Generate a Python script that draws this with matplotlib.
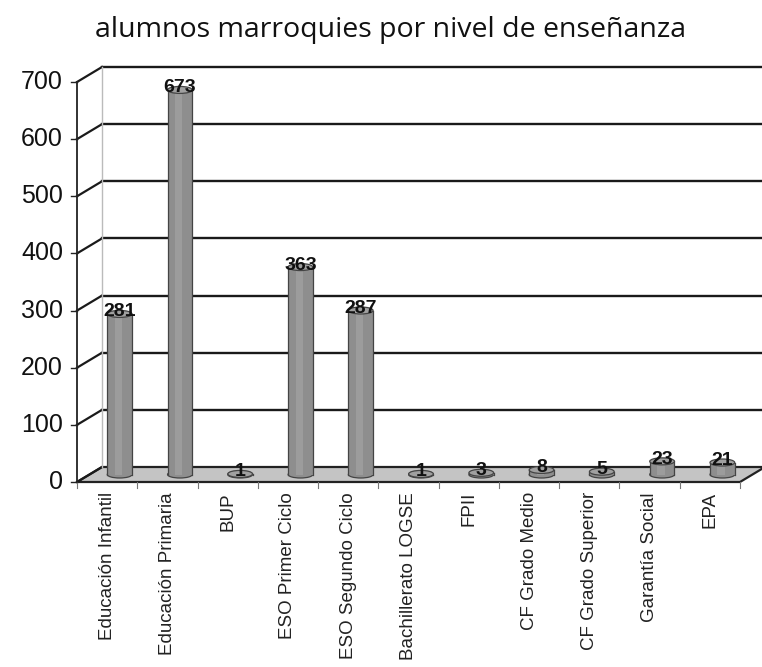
import matplotlib.pyplot as plt
from matplotlib.patches import Rectangle, Ellipse, Polygon
from matplotlib.transforms import ScaledTranslation

categories = ["Educación Infantil", "Educación Primaria", "BUP", "ESO Primer Ciclo",
              "ESO Segundo Ciclo", "Bachillerato LOGSE", "FPII", "CF Grado Medio",
              "CF Grado Superior", "Garantía Social", "EPA"]
values = [281, 673, 1, 363, 287, 1, 3, 8, 5, 23, 21]
yticks = [0, 100, 200, 300, 400, 500, 600, 700]

title = "alumnos marroquies por nivel de enseñanza"

W, H = 762, 667
fig = plt.figure(figsize=(W / 100, H / 100), dpi=100)
ax = fig.add_axes([77 / W, (H - 482) / H, (740 - 77) / W, 400 / H])
ax.set_xlim(0, len(categories))
ax.set_ylim(0, 700)
ax.axis("off")

# depth offsets in pixels -> inches
dx, dy = 25 / 100, 15 / 100
back = ax.transData + ScaledTranslation(dx, dy, fig.dpi_scale_trans)
mid = ax.transData + ScaledTranslation(dx / 2, dy / 2, fig.dpi_scale_trans)
n = len(categories)
ppu = 400 / 700  # pixels per data unit (y)

disp = lambda t, p: t.transform(p)

# floor
pts = [disp(ax.transData, (0, 0)), disp(ax.transData, (n, 0)),
       disp(back, (n, 0)), disp(back, (0, 0))]
fig.patches.append(Polygon(pts, closed=True, transform=None, facecolor="#c4c4c4",
                           edgecolor="#222222", lw=1.6, zorder=-1))

# back wall gridlines
for v in yticks[1:]:
    ax.plot([0, n + 0.05], [v, v], color="#1a1a1a", lw=1.7, transform=back,
            clip_on=False, zorder=2)
ax.plot([0, 0], [0, 700], color="#bbbbbb", lw=1.0, transform=back, clip_on=False, zorder=2)

# side wall connectors and front axis
for v in yticks:
    p0 = disp(ax.transData, (0, v))
    p1 = disp(back, (0, v))
    fig.lines.append(plt.Line2D([p0[0], p1[0]], [p0[1], p1[1]], transform=None,
                                color="#1a1a1a", lw=1.6, zorder=-0.5))
    fig.lines.append(plt.Line2D([p0[0] - 6, p0[0]], [p0[1], p0[1]], transform=None,
                                color="#222222", lw=1.0, zorder=-0.5))
    ax.text(0, v, str(v), transform=ax.transData + ScaledTranslation(-0.14, 0, fig.dpi_scale_trans),
            ha="right", va="center", fontsize=18, family="Liberation Sans", color="#111111")
ax.plot([0, 0], [0, 700], color="#222222", lw=1.3, clip_on=False, zorder=3)

# category ticks
for i in range(n + 1):
    ax.plot([i, i], [0, -10], color="#777777", lw=0.8, clip_on=False)

# cylinders
bw = 0.41
eh = 7 / ppu
for i, v in enumerate(values):
    x0 = i + 0.5 - bw / 2
    ax.add_patch(Rectangle((x0, 0), bw, v, transform=mid, facecolor="#8e8e8e",
                           edgecolor="none", zorder=4, clip_on=False))
    ax.add_patch(Rectangle((x0 + bw * 0.3, 0), bw * 0.3, v, transform=mid, facecolor="#9c9c9c",
                           edgecolor="none", zorder=4.1, clip_on=False))
    ax.plot([x0, x0], [0, v], color="#444444", lw=0.9, transform=mid, zorder=5, clip_on=False)
    ax.plot([x0 + bw, x0 + bw], [0, v], color="#444444", lw=0.9, transform=mid, zorder=5, clip_on=False)
    ax.add_patch(Ellipse((i + 0.5, 0), bw, eh, transform=mid, facecolor="#8e8e8e",
                         edgecolor="#444444", lw=0.9, zorder=3.9, clip_on=False))
    ax.add_patch(Ellipse((i + 0.5, v), bw, eh, transform=mid, facecolor="#a0a0a0",
                         edgecolor="#444444", lw=0.9, zorder=6, clip_on=False))
    ax.text(i + 0.5, v + 2 / ppu, str(v), transform=mid, ha="center", va="center",
            fontsize=14, fontweight="bold", family="Liberation Sans", color="#111111", zorder=7)

# category labels
for i, c in enumerate(categories):
    ax.text(i + 0.5, 0, c, transform=ax.transData + ScaledTranslation(0, -0.1, fig.dpi_scale_trans),
            rotation=90, ha="center", va="top", fontsize=13.5, family="Liberation Sans",
            color="#222222")

fig.text(391 / W, 1 - 30 / H, title, ha="center", va="center", fontsize=20.5,
         family="Open Sans", color="#111111")

fig.savefig("out.png", dpi=100, facecolor="white")
